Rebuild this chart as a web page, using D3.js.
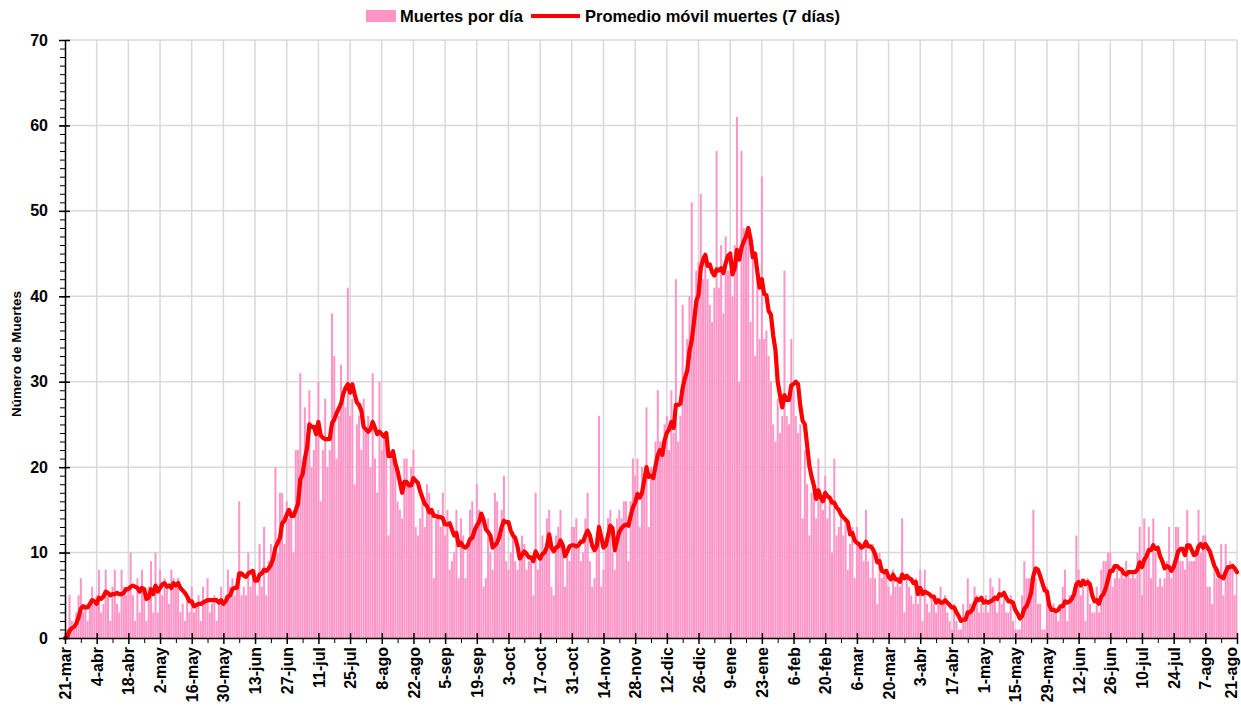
<!DOCTYPE html>
<html>
<head>
<meta charset="utf-8">
<script src="https://cdn.jsdelivr.net/npm/d3@7"></script>
<style>
  body { margin: 0; background: #fff; }
  text { font-family: "Liberation Sans", Arial, sans-serif; font-weight: bold; fill: #000; }
</style>
</head>
<body>
<div id="chart"></div>
<script>
// daily deaths, one value per day starting 21-mar-2020 (14 days per row)
const deaths = [
  0, 1, 5, 2, 1, 3, 5, 7, 3, 4, 2, 4, 6, 4,
  5, 8, 3, 4, 8, 5, 2, 6, 8, 4, 3, 8, 6, 5,
  6, 10, 5, 2, 7, 3, 8, 5, 2, 6, 9, 3, 10, 3,
  8, 5, 7, 6, 4, 8, 7, 6, 7, 3, 4, 2, 5, 3,
  6, 3, 4, 5, 2, 6, 4, 7, 3, 4, 5, 2, 4, 6,
  4, 5, 8, 6, 7, 5, 6, 16, 5, 6, 5, 10, 6, 7,
  8, 5, 11, 6, 13, 5, 9, 11, 10, 20, 10, 17, 17, 11,
  16, 14, 15, 10, 22, 22, 31, 20, 27, 24, 29, 20, 22, 25,
  30, 16, 22, 28, 20, 22, 38, 33, 21, 26, 32, 28, 27, 41,
  26, 28, 18, 25, 26, 22, 28, 24, 26, 20, 31, 21, 17, 30,
  22, 24, 23, 12, 21, 21, 20, 16, 15, 14, 21, 21, 18, 20,
  22, 13, 12, 14, 16, 13, 18, 17, 15, 7, 14, 15, 13, 17,
  12, 15, 8, 9, 10, 15, 7, 14, 12, 7, 11, 15, 16, 13,
  18, 15, 14, 6, 7, 14, 10, 8, 17, 16, 11, 15, 19, 9,
  8, 10, 12, 9, 8, 9, 12, 11, 8, 9, 9, 5, 17, 8,
  9, 12, 10, 14, 15, 6, 5, 12, 13, 15, 10, 6, 10, 9,
  13, 13, 14, 11, 9, 10, 14, 17, 9, 6, 7, 12, 26, 6,
  8, 11, 14, 15, 10, 8, 14, 15, 14, 16, 16, 9, 16, 21,
  19, 21, 13, 20, 19, 27, 13, 20, 19, 23, 29, 23, 23, 25,
  26, 22, 29, 24, 42, 23, 26, 39, 30, 35, 40, 51, 38, 43,
  44, 52, 42, 44, 42, 39, 37, 41, 57, 41, 46, 38, 47, 43,
  43, 40, 46, 61, 30, 57, 48, 47, 47, 37, 46, 33, 42, 35,
  54, 35, 36, 33, 30, 25, 23, 28, 24, 26, 43, 26, 25, 35,
  29, 26, 24, 25, 14, 22, 18, 12, 17, 17, 14, 21, 16, 15,
  19, 14, 16, 10, 21, 12, 13, 15, 12, 14, 8, 11, 13, 7,
  13, 11, 11, 9, 15, 9, 7, 11, 7, 4, 10, 7, 8, 8,
  6, 5, 8, 6, 7, 6, 14, 3, 7, 6, 5, 4, 7, 4,
  8, 2, 8, 4, 3, 5, 4, 3, 4, 6, 4, 5, 3, 2,
  1, 4, 2, 1, 1, 4, 2, 7, 4, 4, 6, 5, 3, 4,
  3, 5, 3, 7, 6, 5, 3, 7, 4, 5, 3, 3, 5, 2,
  1, 1, 1, 5, 9, 7, 7, 7, 15, 7, 4, 4, 1, 1,
  6, 4, 3, 4, 3, 2, 4, 6, 8, 2, 5, 5, 6, 12,
  8, 5, 6, 2, 7, 4, 3, 3, 6, 3, 8, 9, 9, 10,
  10, 6, 7, 8, 7, 8, 7, 9, 8, 7, 8, 7, 10, 13,
  5, 14, 10, 13, 7, 14, 10, 6, 7, 6, 7, 9, 13, 7,
  9, 13, 13, 9, 9, 8, 15, 9, 9, 9, 10, 15, 10, 12,
  12, 6, 6, 4, 9, 7, 7, 11, 5, 11, 8, 9, 8, 5,
  8
];

// x tick labels, one every 14 days
const xTickLabels = [
  '21-mar', '4-abr', '18-abr', '2-may', '16-may', '30-may', '13-jun', '27-jun',
  '11-jul', '25-jul', '8-ago', '22-ago', '5-sep', '19-sep', '3-oct', '17-oct',
  '31-oct', '14-nov', '28-nov', '12-dic', '26-dic', '9-ene', '23-ene', '6-feb',
  '20-feb', '6-mar', '20-mar', '3-abr', '17-abr', '1-may', '15-may', '29-may',
  '12-jun', '26-jun', '10-jul', '24-jul', '7-ago', '21-ago'
];
const yTicks = [0, 10, 20, 30, 40, 50, 60, 70];

const seriesNames = ['Muertes por día', 'Promedio móvil muertes (7 días)'];

const width = 1241;
const height = 709;
const plotLeft = 65, plotRight = 1237, plotTop = 40, plotBottom = 638;

const x = d3.scaleLinear().domain([0, deaths.length - 1]).range([plotLeft, plotRight]);
const y = d3.scaleLinear().domain([0, 70]).range([plotBottom, plotTop]);

const svg = d3.select('#chart').append('svg')
    .attr('width', width)
    .attr('height', height);

const majorDays = xTickLabels.map((d, i) => i * 14);

// grid
svg.append('g').selectAll('line')
    .data(yTicks.slice(1))
    .enter().append('line')
    .attr('x1', plotLeft).attr('x2', plotRight)
    .attr('y1', d => y(d)).attr('y2', d => y(d))
    .attr('stroke', '#d9d9d9').attr('stroke-width', 1.5);

svg.append('g').selectAll('line')
    .data(majorDays.slice(1))
    .enter().append('line')
    .attr('x1', d => x(d)).attr('x2', d => x(d))
    .attr('y1', plotTop).attr('y2', plotBottom)
    .attr('stroke', '#d9d9d9').attr('stroke-width', 1.5);

// clip for half bars at the edges
svg.append('clipPath').attr('id', 'plot')
    .append('rect').attr('x', plotLeft).attr('y', 0)
    .attr('width', plotRight - plotLeft).attr('height', plotBottom);

const barW = 2.0;
svg.append('g').attr('clip-path', 'url(#plot)')
    .selectAll('rect')
    .data(deaths)
    .enter().append('rect')
    .attr('x', (d, i) => x(i) - barW / 2)
    .attr('y', d => y(d))
    .attr('width', barW)
    .attr('height', d => plotBottom - y(d))
    .attr('fill', '#ff94c6');

// 7 day moving average
const avg = deaths.map((d, i) => d3.sum(deaths.slice(Math.max(0, i - 6), i + 1)) / 7);

const line = d3.line()
    .x((d, i) => x(i))
    .y(d => y(d));

svg.append('path')
    .datum(avg)
    .attr('d', line)
    .attr('fill', 'none')
    .attr('stroke', '#ff0000')
    .attr('stroke-width', 4.2)
    .attr('stroke-linejoin', 'round')
    .attr('stroke-linecap', 'round');

// y axis
const yAxis = svg.append('g')
    .attr('transform', `translate(${plotLeft},0)`)
    .call(d3.axisLeft(y).tickValues(yTicks).tickSize(6).tickSizeOuter(0).tickPadding(11));
yAxis.select('.domain').attr('stroke', '#000').attr('stroke-width', 1.5);
yAxis.selectAll('.tick line').attr('stroke-width', 1.5);
yAxis.selectAll('text').style('font-size', '16px');

// minor y ticks every unit
svg.append('g')
    .attr('transform', `translate(${plotLeft},0)`)
    .call(d3.axisLeft(y).tickValues(d3.range(0, 71)).tickSize(5).tickFormat(''))
    .call(g => g.select('.domain').remove())
    .selectAll('line').attr('stroke-width', 1);

svg.append('g')
    .attr('transform', `translate(${plotLeft},0)`)
    .call(d3.axisRight(y).tickValues(yTicks).tickSize(5).tickFormat(''))
    .call(g => g.select('.domain').remove())
    .selectAll('line').attr('stroke-width', 1.5);

// x axis
const xAxis = svg.append('g')
    .attr('transform', `translate(0,${plotBottom})`)
    .call(d3.axisBottom(x).tickValues(majorDays).tickSize(6).tickSizeOuter(0)
        .tickFormat((d, i) => xTickLabels[i]));
xAxis.select('.domain').attr('stroke', '#000').attr('stroke-width', 1.5);
xAxis.selectAll('.tick line').attr('stroke-width', 1.5);
xAxis.selectAll('text')
    .style('font-size', '16px')
    .attr('transform', 'rotate(-90)')
    .attr('text-anchor', 'end')
    .attr('x', -9)
    .attr('y', (d, i) => i === xTickLabels.length - 1 ? -6 : 0)
    .attr('dy', '0.35em');

svg.append('g')
    .attr('transform', `translate(0,${plotBottom})`)
    .call(d3.axisBottom(x).tickValues(d3.range(7, deaths.length, 14)).tickSize(5).tickFormat(''))
    .call(g => g.select('.domain').remove())
    .selectAll('line').attr('stroke-width', 1);

svg.append('g')
    .attr('transform', `translate(0,${plotBottom})`)
    .call(d3.axisTop(x).tickValues(majorDays).tickSize(5).tickFormat(''))
    .call(g => g.select('.domain').remove())
    .selectAll('line').attr('stroke-width', 1.5);

// y axis title
svg.append('text')
    .attr('transform', 'translate(21,354) rotate(-90)')
    .attr('text-anchor', 'middle')
    .style('font-size', '13.5px')
    .text('Número de Muertes');

// legend
const legend = svg.append('g');
legend.append('rect')
    .attr('x', 366).attr('y', 10).attr('width', 30).attr('height', 12)
    .attr('fill', '#ff94c6');
legend.append('text')
    .attr('x', 400).attr('y', 22)
    .style('font-size', '16.5px')
    .text(seriesNames[0]);
legend.append('line')
    .attr('x1', 531).attr('x2', 580).attr('y1', 16).attr('y2', 16)
    .attr('stroke', '#ff0000').attr('stroke-width', 4);
legend.append('text')
    .attr('x', 585).attr('y', 22)
    .style('font-size', '16.5px')
    .text(seriesNames[1]);
</script>
</body>
</html>
